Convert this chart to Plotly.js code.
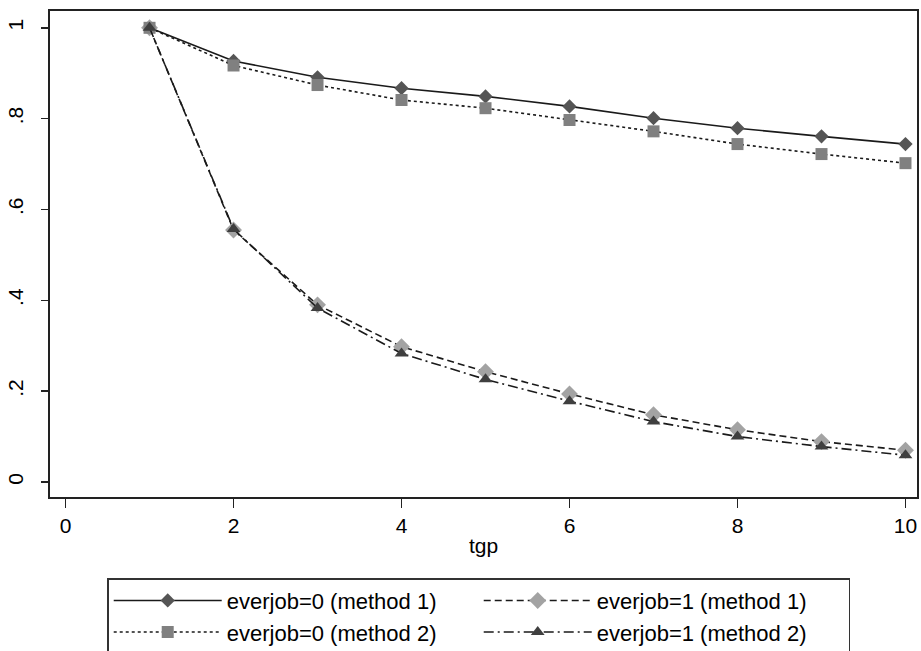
<!DOCTYPE html>
<html>
<head>
<meta charset="utf-8">
<script src="https://cdn.plot.ly/plotly-3.0.1.min.js"></script>
<style>
  html, body { margin: 0; padding: 0; background: #ffffff; }
  #chart { width: 921px; height: 651px; }
</style>
</head>
<body>
<div id="chart"></div>
<script>
// ---- data ----
const tgp = [1, 2, 3, 4, 5, 6, 7, 8, 9, 10];
const everjob0_method1 = [1, 0.927, 0.891, 0.867, 0.849, 0.827, 0.801, 0.779, 0.761, 0.744];
const everjob0_method2 = [1, 0.917, 0.874, 0.841, 0.823, 0.797, 0.772, 0.744, 0.722, 0.702];
const everjob1_method1 = [1, 0.555, 0.390, 0.298, 0.243, 0.194, 0.148, 0.115, 0.089, 0.070];
const everjob1_method2 = [1, 0.557, 0.383, 0.283, 0.226, 0.178, 0.133, 0.100, 0.078, 0.059];
const seriesNames = [
  'everjob=0 (method 1)',
  'everjob=1 (method 1)',
  'everjob=0 (method 2)',
  'everjob=1 (method 2)'
];
const xTickVals = [0, 2, 4, 6, 8, 10];
const xTickText = ['0', '2', '4', '6', '8', '10'];
const yTickVals = [0, 0.2, 0.4, 0.6, 0.8, 1];
const yTickText = ['0', '.2', '.4', '.6', '.8', '1'];

const FONT = 'Liberation Sans, Arial, sans-serif';
const FS = 21;
const LFS = 22;
const LINE = '#1a1a1a';

const traces = [
  {
    x: tgp, y: everjob0_method1, name: seriesNames[0], type: 'scatter', mode: 'lines+markers',
    line: { color: LINE, width: 1.6, dash: 'solid' },
    marker: { symbol: 'diamond', size: 11, color: '#555555' }
  },
  {
    x: tgp, y: everjob1_method1, name: seriesNames[1], type: 'scatter', mode: 'lines+markers',
    line: { color: LINE, width: 1.6, dash: '7px,4px' },
    marker: { symbol: 'diamond', size: 13, color: '#a3a3a3' }
  },
  {
    x: tgp, y: everjob0_method2, name: seriesNames[2], type: 'scatter', mode: 'lines+markers',
    line: { color: LINE, width: 1.6, dash: 'dot' },
    marker: { symbol: 'square', size: 12, color: '#808080' }
  },
  {
    x: tgp, y: everjob1_method2, name: seriesNames[3], type: 'scatter', mode: 'lines+markers',
    line: { color: LINE, width: 1.6, dash: '10px,4px,2px,4px' },
    marker: { symbol: 'triangle-up', size: 12, color: '#3f3f3f' }
  }
];

const layout = {
  width: 921,
  height: 651,
  paper_bgcolor: '#ffffff',
  plot_bgcolor: '#ffffff',
  font: { family: FONT, size: FS, color: '#000000' },
  margin: { l: 50, r: 4, t: 11, b: 154, pad: 0, autoexpand: false },
  showlegend: true,
  xaxis: {
    range: [-0.185, 10.137],
    tickmode: 'array', tickvals: xTickVals, ticktext: xTickText,
    ticks: 'outside', ticklen: 9, tickwidth: 1.5, tickcolor: '#222',
    showline: true, linecolor: '#222', linewidth: 2, mirror: true,
    showgrid: false, zeroline: false,
    tickfont: { family: FONT, size: FS },
    title: { text: 'tgp', font: { family: FONT, size: FS }, standoff: 2 }
  },
  yaxis: {
    range: [-0.033, 1.037],
    tickmode: 'array', tickvals: yTickVals, ticktext: yTickText,
    tickangle: -90,
    ticks: 'outside', ticklen: 7, tickwidth: 1.5, tickcolor: '#222',
    ticklabelstandoff: 10,
    showline: true, linecolor: '#222', linewidth: 2, mirror: true,
    showgrid: false, zeroline: false,
    tickfont: { family: FONT, size: FS }
  },
  legend: {
    orientation: 'h',
    x: 0.066, xanchor: 'left',
    y: -0.167, yanchor: 'top',
    bordercolor: '#333333', borderwidth: 1.5,
    bgcolor: '#ffffff',
    entrywidth: 247, entrywidthmode: 'pixels',
    itemwidth: 108,
    tracegroupgap: 0,
    font: { family: FONT, size: LFS, color: '#000' },
    traceorder: 'normal'
  }
};

Plotly.newPlot('chart', traces, layout, { staticPlot: true, displayModeBar: false });
</script>
</body>
</html>
